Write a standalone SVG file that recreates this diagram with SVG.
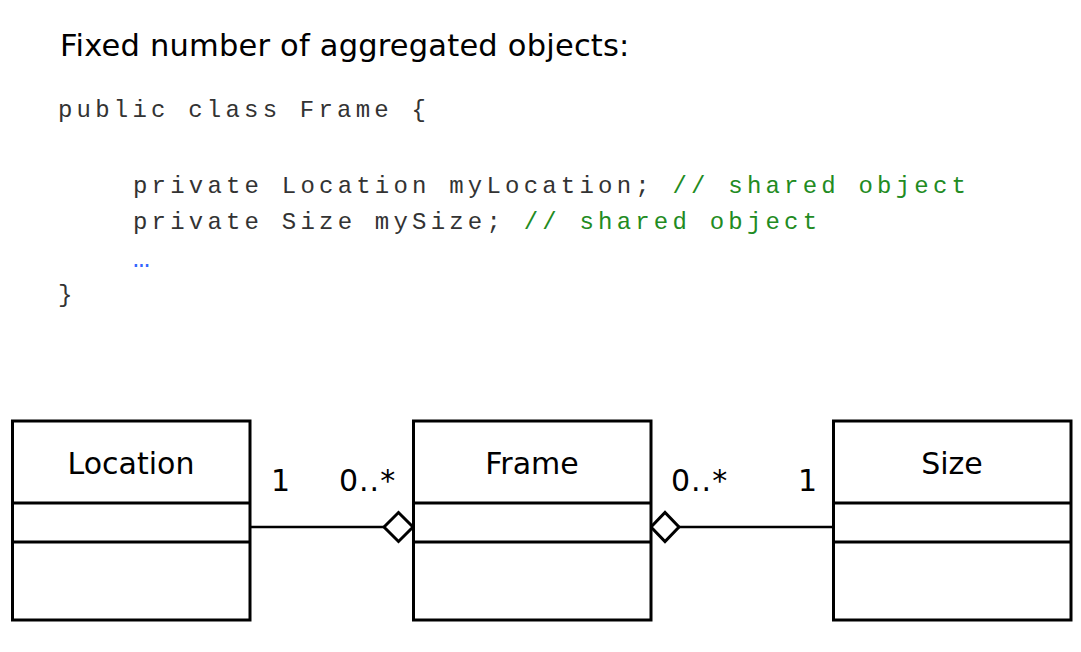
<svg xmlns="http://www.w3.org/2000/svg" width="1081" height="652" viewBox="0 0 1081 652">
<style>
.sans{font-family:"DejaVu Sans","Verdana",sans-serif;fill:#000}
.code{font-family:"Courier New","Nimbus Mono PS","FreeMono","Liberation Mono",monospace;font-size:24px;letter-spacing:4.2px;fill:#333}
.cmt{fill:#228B22}
.ell{fill:#3366ff;font-size:28px}
.box{fill:#fff;stroke:#000;stroke-width:3}
.div{stroke:#000;stroke-width:3}
.conn{stroke:#000;stroke-width:2.6;fill:none}
.dia{fill:#fff;stroke:#000;stroke-width:3;stroke-linejoin:miter}
.lbl{font-size:30px;text-anchor:middle}
.mult{font-size:30px;letter-spacing:1px}
</style>
<rect width="1081" height="652" fill="#fff"/>
<g id="title">
<text class="sans" x="60" y="56" font-size="30.5" letter-spacing="0.2">Fixed number of aggregated objects:</text>
</g>
<g id="code">
<text class="code" x="58" y="117">public class Frame {</text>
<text class="code" x="133" y="193">private Location myLocation; <tspan class="cmt">// shared object</tspan></text>
<text class="code" x="133" y="229">private Size mySize; <tspan class="cmt">// shared object</tspan></text>
<text class="code ell" x="133" y="267">…</text>
<text class="code" x="58" y="302">}</text>
</g>
<g id="connectors">
<line class="conn" x1="250" y1="527" x2="385" y2="527"/>
<polygon class="dia" points="384,527 398.5,512.5 413,527 398.5,541.5"/>
<line class="conn" x1="678" y1="527" x2="833" y2="527"/>
<polygon class="dia" points="651,527 665,512.5 679,527 665,541.5"/>
<text class="sans mult" x="271" y="491">1</text>
<text class="sans mult" x="339" y="491">0..*</text>
<text class="sans mult" x="671" y="491">0..*</text>
<text class="sans mult" x="798" y="491">1</text>
</g>
<g id="Location">
<rect class="box" x="12.5" y="421" width="237.5" height="199"/>
<line class="div" x1="12.5" y1="503" x2="250" y2="503"/>
<line class="div" x1="12.5" y1="542" x2="250" y2="542"/>
<text class="sans lbl" x="131" y="474">Location</text>
</g>
<g id="Frame">
<rect class="box" x="413.5" y="421" width="237.5" height="199"/>
<line class="div" x1="413.5" y1="503" x2="651" y2="503"/>
<line class="div" x1="413.5" y1="542" x2="651" y2="542"/>
<text class="sans lbl" x="532" y="474">Frame</text>
</g>
<g id="Size">
<rect class="box" x="833.5" y="421" width="237.5" height="199"/>
<line class="div" x1="833.5" y1="503" x2="1071" y2="503"/>
<line class="div" x1="833.5" y1="542" x2="1071" y2="542"/>
<text class="sans lbl" x="952" y="474">Size</text>
</g>
</svg>
